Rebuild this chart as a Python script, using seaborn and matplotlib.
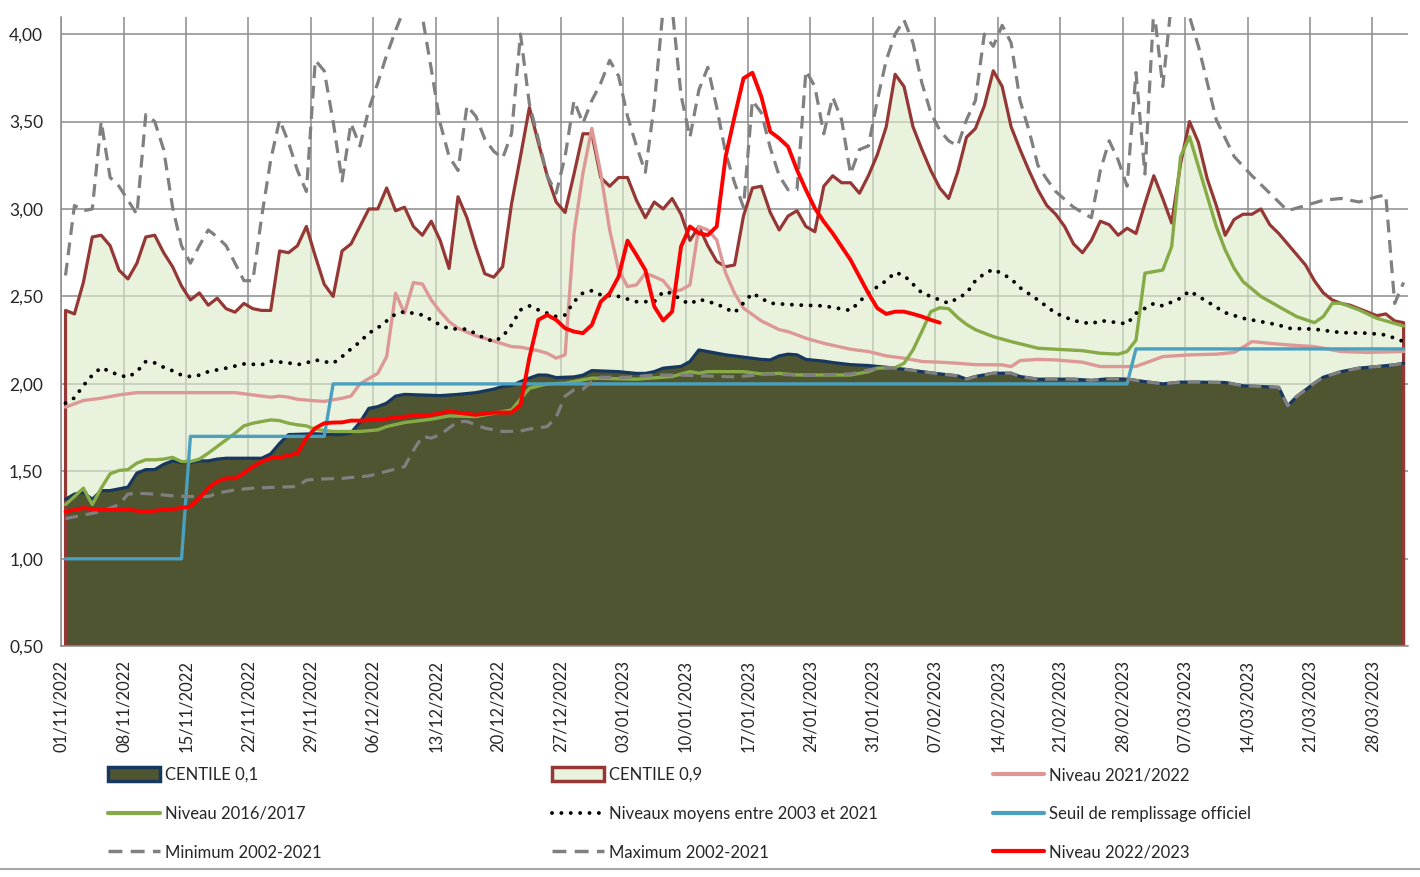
import matplotlib
matplotlib.use("Agg")
import numpy as np
import pandas as pd
import matplotlib.pyplot as plt
import seaborn as sns
from matplotlib.lines import Line2D
from matplotlib.patches import Patch
from matplotlib.ticker import FuncFormatter

# day 0 = 01/11/2022, last day = 31/03/2023
start_date = "2022-11-01"

# CENTILE 0,9 - one value per day (0..150)
c90_vals = [2.42, 2.40, 2.58, 2.84, 2.85, 2.79, 2.65, 2.60, 2.69, 2.84,
            2.85, 2.75, 2.67, 2.56, 2.48, 2.52, 2.45, 2.49, 2.43, 2.41,
            2.46, 2.43, 2.42, 2.42, 2.76, 2.75, 2.79, 2.90, 2.73, 2.57,
            2.50, 2.76, 2.80, 2.90, 3.00, 3.00, 3.12, 2.99, 3.01, 2.90,
            2.85, 2.93, 2.82, 2.66, 3.07, 2.95, 2.78, 2.63, 2.61, 2.67,
            3.03, 3.30, 3.58, 3.38, 3.19, 3.04, 2.98, 3.20, 3.43, 3.43,
            3.18, 3.13, 3.18, 3.18, 3.05, 2.95, 3.04, 3.00, 3.06, 2.97,
            2.82, 2.90, 2.79, 2.70, 2.67, 2.68, 2.96, 3.12, 3.13, 2.98,
            2.88, 2.96, 2.99, 2.90, 2.87, 3.13, 3.19, 3.15, 3.15, 3.09,
            3.19, 3.31, 3.47, 3.77, 3.70, 3.47, 3.34, 3.22, 3.12, 3.06,
            3.21, 3.41, 3.46, 3.59, 3.79, 3.70, 3.47, 3.34, 3.22, 3.11,
            3.02, 2.97, 2.90, 2.80, 2.75, 2.82, 2.93, 2.91, 2.85, 2.89,
            2.86, 3.03, 3.19, 3.06, 2.92, 3.26, 3.50, 3.38, 3.17, 3.02,
            2.85, 2.94, 2.97, 2.97, 3.00, 2.91, 2.86, 2.80, 2.74, 2.68,
            2.59, 2.52, 2.48, 2.46, 2.45, 2.43, 2.41, 2.39, 2.40, 2.36,
            2.35]

# CENTILE 0,1
c10_days = [0, 1, 2, 3, 4, 5, 6, 7, 8, 9, 10, 11, 12, 13, 14, 15, 16, 17, 18, 22,
            23, 24, 25, 28, 30, 31, 32, 33, 34, 35, 36, 37, 38, 42, 44, 46, 47, 48, 49, 50,
            51, 52, 53, 54, 55, 57, 58, 59, 60, 62, 64, 65, 66, 67, 68, 69, 70, 71, 72, 74,
            76, 78, 79, 80, 81, 82, 83, 85, 86, 88, 90, 92, 94, 96, 98, 100, 101, 102, 104, 106,
            107, 109, 111, 113, 115, 117, 119, 121, 123, 125, 127, 130, 132, 134, 136, 137, 138, 140, 141, 143,
            145, 147, 149, 150]
c10_vals = [1.34, 1.37, 1.38, 1.34, 1.39, 1.39, 1.40, 1.41, 1.49, 1.51, 1.51, 1.54, 1.56, 1.55, 1.55, 1.56, 1.56, 1.57, 1.575, 1.575,
            1.60, 1.66, 1.71, 1.715, 1.71, 1.71, 1.72, 1.78, 1.86, 1.87, 1.89, 1.93, 1.94, 1.933, 1.94, 1.95, 1.96, 1.97, 1.985, 1.99,
            2.013, 2.033, 2.051, 2.05, 2.036, 2.04, 2.05, 2.076, 2.074, 2.07, 2.06, 2.06, 2.07, 2.09, 2.095, 2.10, 2.128, 2.194, 2.185, 2.166,
            2.153, 2.14, 2.137, 2.16, 2.17, 2.166, 2.14, 2.13, 2.122, 2.11, 2.105, 2.095, 2.084, 2.07, 2.057, 2.046, 2.027, 2.042, 2.061, 2.061,
            2.042, 2.027, 2.027, 2.027, 2.02, 2.03, 2.027, 2.013, 2.0, 2.01, 2.01, 2.008, 1.989, 1.985, 1.98, 1.874, 1.927, 2.004, 2.038, 2.07,
            2.09, 2.099, 2.109, 2.118]

# Niveau 2021/2022
n2122_days = [0, 2, 4, 6, 8, 19, 21, 22, 23, 24, 25, 26, 28, 29, 30, 31, 32, 33, 34, 35,
              36, 37, 38, 39, 40, 41, 42, 43, 44, 46, 48, 50, 51, 53, 54, 55, 56, 57, 58, 59,
              60, 61, 62, 63, 64, 65, 66, 67, 68, 69, 70, 71, 72, 73, 74, 75, 76, 78, 80, 81,
              83, 85, 88, 90, 92, 94, 96, 98, 100, 102, 105, 106, 107, 109, 111, 114, 116, 119, 120, 122,
              123, 126, 129, 131, 132, 133, 135, 137, 140, 143, 146, 150]
n2122_vals = [1.867, 1.905, 1.918, 1.937, 1.95, 1.95, 1.937, 1.93, 1.924, 1.93, 1.924, 1.912, 1.903, 1.90, 1.909, 1.918, 1.93, 2.0, 2.03, 2.06,
              2.156, 2.518, 2.404, 2.579, 2.571, 2.48, 2.413, 2.356, 2.318, 2.275, 2.245, 2.213, 2.21, 2.19, 2.175, 2.147, 2.166, 2.861, 3.204, 3.461,
              3.204, 2.88, 2.651, 2.556, 2.566, 2.633, 2.613, 2.59, 2.527, 2.537, 2.566, 2.90, 2.88, 2.823, 2.633, 2.518, 2.433, 2.36, 2.31, 2.299,
              2.261, 2.232, 2.198, 2.185, 2.16, 2.147, 2.128, 2.124, 2.118, 2.11, 2.109, 2.099, 2.133, 2.14, 2.137, 2.124, 2.099, 2.099, 2.10, 2.137,
              2.156, 2.166, 2.17, 2.18, 2.21, 2.242, 2.232, 2.223, 2.213, 2.185, 2.18, 2.185]

# Niveau 2016/2017
n1617_days = [0, 1, 2, 3, 4, 5, 6, 7, 8, 9, 10, 11, 12, 13, 14, 15, 16, 17, 18, 19,
              20, 21, 22, 23, 24, 25, 26, 27, 28, 30, 33, 35, 36, 38, 41, 43, 46, 50, 52, 54,
              56, 59, 64, 68, 70, 71, 72, 76, 78, 80, 82, 88, 90, 91, 93, 94, 95, 96, 97, 98,
              99, 100, 101, 102, 104, 106, 109, 111, 114, 116, 118, 119, 120, 121, 123, 124, 125, 126, 127, 128,
              129, 130, 131, 132, 134, 136, 138, 140, 141, 142, 143, 145, 147, 150]
n1617_vals = [1.31, 1.356, 1.404, 1.31, 1.404, 1.486, 1.505, 1.51, 1.547, 1.566, 1.566, 1.57, 1.58, 1.556, 1.556, 1.57, 1.604, 1.642, 1.68, 1.718,
              1.76, 1.775, 1.785, 1.794, 1.79, 1.775, 1.766, 1.76, 1.74, 1.728, 1.728, 1.737, 1.756, 1.779, 1.798, 1.817, 1.813, 1.851, 1.975, 2.00,
              2.004, 2.033, 2.027, 2.042, 2.07, 2.061, 2.07, 2.07, 2.057, 2.06, 2.051, 2.051, 2.07, 2.09, 2.093, 2.118, 2.194, 2.30, 2.413, 2.435,
              2.43, 2.38, 2.34, 2.31, 2.27, 2.242, 2.204, 2.198, 2.19, 2.175, 2.17, 2.185, 2.25, 2.633, 2.651, 2.785, 3.30, 3.413, 3.242, 3.07,
              2.90, 2.766, 2.661, 2.585, 2.50, 2.442, 2.385, 2.35, 2.385, 2.461, 2.461, 2.423, 2.375, 2.331]

# Niveaux moyens entre 2003 et 2021
moy_days = [0, 1, 2, 3, 4, 5, 6, 7, 8, 9, 10, 11, 12, 13, 14, 15, 16, 18, 20, 22,
            23, 25, 26, 27, 28, 30, 31, 32, 33, 34, 35, 36, 37, 38, 40, 42, 43, 45, 47, 48,
            49, 50, 51, 52, 53, 55, 56, 57, 58, 59, 60, 62, 64, 66, 67, 68, 69, 70, 71, 73,
            75, 77, 79, 82, 85, 88, 89, 90, 92, 93, 94, 95, 96, 98, 99, 101, 102, 103, 104, 105,
            106, 107, 109, 111, 113, 115, 116, 118, 119, 120, 122, 123, 125, 126, 128, 130, 132, 134, 136, 137,
            140, 143, 146, 148, 149, 150]
moy_vals = [1.89, 1.92, 1.99, 2.05, 2.093, 2.07, 2.05, 2.038, 2.07, 2.128, 2.12, 2.095, 2.075, 2.05, 2.042, 2.05, 2.07, 2.09, 2.114, 2.11,
            2.13, 2.12, 2.11, 2.12, 2.137, 2.118, 2.156, 2.20, 2.24, 2.29, 2.32, 2.36, 2.40, 2.413, 2.394, 2.337, 2.315, 2.313, 2.26, 2.242,
            2.27, 2.337, 2.423, 2.446, 2.423, 2.385, 2.394, 2.47, 2.52, 2.533, 2.509, 2.50, 2.47, 2.47, 2.527, 2.518, 2.48, 2.457, 2.484, 2.457,
            2.407, 2.518, 2.461, 2.451, 2.446, 2.42, 2.47, 2.52, 2.59, 2.637, 2.62, 2.57, 2.52, 2.48, 2.461, 2.518, 2.59, 2.63, 2.655, 2.63,
            2.60, 2.55, 2.48, 2.404, 2.362, 2.343, 2.362, 2.35, 2.343, 2.404, 2.46, 2.446, 2.49, 2.531, 2.47, 2.407, 2.375, 2.356, 2.337, 2.318,
            2.313, 2.293, 2.29, 2.28, 2.261, 2.242]

# Seuil de remplissage officiel
seuil_days = [0, 13, 14, 29, 30, 119, 120, 150]
seuil_vals = [1.0, 1.0, 1.7, 1.7, 2.0, 2.0, 2.2, 2.2]

# Minimum 2002-2021
min_days = [0, 2, 4, 6, 7, 8, 10, 12, 14, 16, 17, 19, 21, 24, 26, 27, 28, 31, 34, 36,
            38, 39, 40, 41, 42, 44, 45, 47, 49, 51, 52, 54, 55, 56, 57, 58, 59, 60, 63, 66,
            69, 72, 75, 79, 83, 88, 91, 92, 94, 96, 98, 100, 101, 102, 104, 106, 107, 109, 111, 113,
            115, 117, 119, 121, 123, 125, 127, 130, 132, 134, 136, 137, 138, 140, 141, 143, 145, 147, 149, 150]
min_vals = [1.23, 1.25, 1.27, 1.31, 1.37, 1.375, 1.37, 1.36, 1.356, 1.356, 1.375, 1.394, 1.404, 1.41, 1.413, 1.45, 1.455, 1.46, 1.474, 1.50,
            1.527, 1.62, 1.70, 1.69, 1.71, 1.785, 1.785, 1.747, 1.728, 1.73, 1.742, 1.756, 1.81, 1.93, 1.966, 1.97, 2.013, 2.038, 2.038, 2.051,
            2.05, 2.045, 2.04, 2.057, 2.048, 2.057, 2.09, 2.095, 2.084, 2.07, 2.057, 2.046, 2.027, 2.042, 2.061, 2.061, 2.042, 2.027, 2.027, 2.027,
            2.02, 2.03, 2.027, 2.013, 2.0, 2.01, 2.01, 2.008, 1.989, 1.985, 1.98, 1.874, 1.927, 2.004, 2.038, 2.07, 2.09, 2.099, 2.109, 2.118]

# Maximum 2002-2021
max_days = list(range(0, 112)) + [113, 115, 116, 117, 118, 119, 120, 121, 122, 123,
                                  124, 125, 126, 127, 128, 129, 131, 133, 135, 137,
                                  139, 141, 143, 145, 147, 148, 149, 150]
max_vals = [2.62, 3.02, 2.99, 3.00, 3.50, 3.18, 3.13, 3.05, 2.97, 3.54,
            3.50, 3.34, 3.01, 2.79, 2.69, 2.79, 2.88, 2.84, 2.79, 2.69,
            2.59, 2.59, 2.96, 3.28, 3.51, 3.38, 3.22, 3.10, 3.85, 3.79,
            3.50, 3.16, 3.49, 3.36, 3.57, 3.72, 3.88, 4.02, 4.15, 4.20,
            4.10, 3.80, 3.49, 3.30, 3.22, 3.59, 3.53, 3.40, 3.33, 3.29,
            3.43, 4.00, 3.60, 3.40, 3.19, 3.09, 3.30, 3.62, 3.49, 3.62,
            3.72, 3.85, 3.76, 3.53, 3.36, 3.21, 3.60, 4.15, 4.15, 3.65,
            3.41, 3.68, 3.81, 3.58, 3.32, 3.15, 3.01, 3.62, 3.55, 3.35,
            3.19, 3.11, 3.11, 3.79, 3.70, 3.43, 3.64, 3.51, 3.20, 3.34,
            3.36, 3.62, 3.85, 4.00, 4.08, 3.95, 3.72, 3.55, 3.45, 3.39,
            3.36, 3.51, 3.62, 4.00, 3.93, 4.05, 3.95, 3.62, 3.45, 3.25,
            3.17, 3.10,
            3.01, 2.95, 3.22, 3.39, 3.28, 3.13, 3.78, 3.20, 4.15, 3.70,
            4.20, 4.25, 4.10, 3.93, 3.72, 3.51, 3.30, 3.19, 3.09, 2.99,
            3.02, 3.05, 3.06, 3.04, 3.07, 3.08, 2.46, 2.58]

# Niveau 2022/2023
n2223_days = [0, 2, 4, 7, 9, 11, 13, 14, 15, 16, 17, 18, 19, 20, 21, 22, 23, 24, 25, 26,
              27, 28, 29, 30, 31, 32, 33, 35, 38, 41, 43, 46, 48, 50, 51, 52, 53, 54, 55, 56,
              57, 58, 59, 60, 61, 62, 63, 64, 65, 66, 67, 68, 69, 70, 71, 72, 73, 74, 75, 76,
              77, 78, 79, 80, 81, 82, 83, 84, 85, 86, 87, 88, 89, 90, 91, 92, 93, 94, 95, 96,
              97, 98]
n2223_vals = [1.27, 1.29, 1.28, 1.28, 1.27, 1.28, 1.29, 1.30, 1.347, 1.404, 1.442, 1.46, 1.46, 1.49, 1.527, 1.556, 1.575, 1.58, 1.59, 1.604,
              1.69, 1.747, 1.775, 1.779, 1.78, 1.79, 1.79, 1.795, 1.813, 1.823, 1.842, 1.823, 1.836, 1.836, 1.88, 2.15, 2.366, 2.394, 2.366, 2.318,
              2.299, 2.29, 2.337, 2.47, 2.518, 2.613, 2.819, 2.737, 2.651, 2.442, 2.362, 2.413, 2.785, 2.90, 2.861, 2.851, 2.90, 3.30, 3.528, 3.747,
              3.779, 3.642, 3.442, 3.404, 3.356, 3.223, 3.109, 3.004, 2.928, 2.861, 2.785, 2.709, 2.613, 2.518, 2.433, 2.40, 2.413, 2.413, 2.40, 2.385,
              2.366, 2.35]

labels = ["CENTILE 0,1", "CENTILE 0,9", "Niveau 2021/2022",
          "Niveau 2016/2017", "Niveaux moyens entre 2003 et 2021", "Seuil de remplissage officiel",
          "Minimum 2002-2021", "Maximum 2002-2021", "Niveau 2022/2023"]

sns.set_style("white")
plt.rcParams["font.family"] = ["Lato", "DejaVu Sans"]
plt.rcParams["font.size"] = 12

col_dark = "#4f5530"
col_navy = "#17375e"
col_light = "#dcebcb"
col_brown = "#953735"
col_pink = "#dd9896"
col_green = "#86aa46"
col_blue = "#4aa0be"
col_grey = "#808080"
col_red = "#ff0000"
dash = (0, (4, 2.4))
dots = (0, (0.01, 2.4))

fig = plt.figure(figsize=(14.2, 8.77), dpi=100)
ax = fig.add_axes([0.043, 0.2631, 0.9486, 0.718])

c90_days = np.arange(len(c90_vals))
ax.fill_between(c90_days, 0.5, c90_vals, facecolor=col_light, alpha=0.65,
                edgecolor="none", zorder=1)
ax.fill_between(c10_days, 0.5, c10_vals, facecolor=col_dark, edgecolor="none", zorder=1.2)
ax.fill_between(c90_days, 0.5, c90_vals, facecolor="none", edgecolor=col_brown,
                linewidth=2.3, zorder=1.4)
sns.lineplot(x=c10_days, y=c10_vals, ax=ax, color=col_navy, lw=2.3, zorder=1.5)

sns.lineplot(x=n2122_days, y=n2122_vals, ax=ax, color=col_pink, lw=2.4, zorder=3)
sns.lineplot(x=n1617_days, y=n1617_vals, ax=ax, color=col_green, lw=2.4, zorder=3.1)
sns.lineplot(x=moy_days, y=moy_vals, ax=ax, color="black", lw=2.8, linestyle=dots,
             dash_capstyle="round", zorder=3.2)
sns.lineplot(x=seuil_days, y=seuil_vals, ax=ax, color=col_blue, lw=2.4, zorder=3.3)
sns.lineplot(x=min_days, y=min_vals, ax=ax, color=col_grey, lw=2.3, linestyle=dash, zorder=3.4)
sns.lineplot(x=max_days, y=max_vals, ax=ax, color=col_grey, lw=2.3, linestyle=dash, zorder=3.5)
sns.lineplot(x=n2223_days, y=n2223_vals, ax=ax, color=col_red, lw=2.8, zorder=3.6)

# axes
ax.set_xlim(-0.5, 150.5)
ax.set_ylim(0.5, 4.1)
tick_pos = np.arange(0, 151, 7) - 0.5
tick_lab = pd.date_range(start_date, periods=len(tick_pos), freq="7D").strftime("%d/%m/%Y")
ax.set_xticks(tick_pos)
ax.set_xticklabels(tick_lab, rotation=90, fontsize=12)
ax.set_yticks(np.arange(0.5, 4.01, 0.5))
ax.yaxis.set_major_formatter(FuncFormatter(lambda v, p: f"{v:.2f}".replace(".", ",")))
ax.tick_params(axis="y", labelsize=12.5, length=5, color="#888888", width=1, pad=8)
ax.tick_params(axis="x", length=5, color="#888888", width=1, pad=5)
ax.set_xlabel("")
ax.set_ylabel("")
ax.set_axisbelow(True)
ax.grid(True, color="#8c8c8c", lw=1.1)
for s in ["top", "right"]:
    ax.spines[s].set_visible(False)
for s in ["left", "bottom"]:
    ax.spines[s].set_color("#8c8c8c")
    ax.spines[s].set_linewidth(1.1)

# legend in three columns
handles = [
    Patch(facecolor=col_dark, edgecolor=col_navy, lw=2.5),
    Patch(facecolor="#e8f2dd", edgecolor=col_brown, lw=2.5),
    Line2D([], [], color=col_pink, lw=3),
    Line2D([], [], color=col_green, lw=3),
    Line2D([], [], color="black", lw=2.8, linestyle=dots, dash_capstyle="round"),
    Line2D([], [], color=col_blue, lw=3),
    Line2D([], [], color=col_grey, lw=2.5, linestyle=dash),
    Line2D([], [], color=col_grey, lw=2.5, linestyle=dash),
    Line2D([], [], color=col_red, lw=3),
]
for col, xpos in enumerate([0.076, 0.389, 0.699]):
    idx = [col, col + 3, col + 6]
    fig.legend([handles[i] for i in idx], [labels[i] for i in idx],
               loc="upper left", bbox_to_anchor=(xpos, 0.1253), frameon=False,
               borderpad=0, borderaxespad=0, handlelength=3.1, handleheight=0.9,
               handletextpad=0.3, labelspacing=1.37, fontsize=12)

fig.add_artist(Line2D([0, 1], [0.009, 0.009], color="#a6a6a6", lw=1.5))

fig.savefig("out.png", dpi=100)
